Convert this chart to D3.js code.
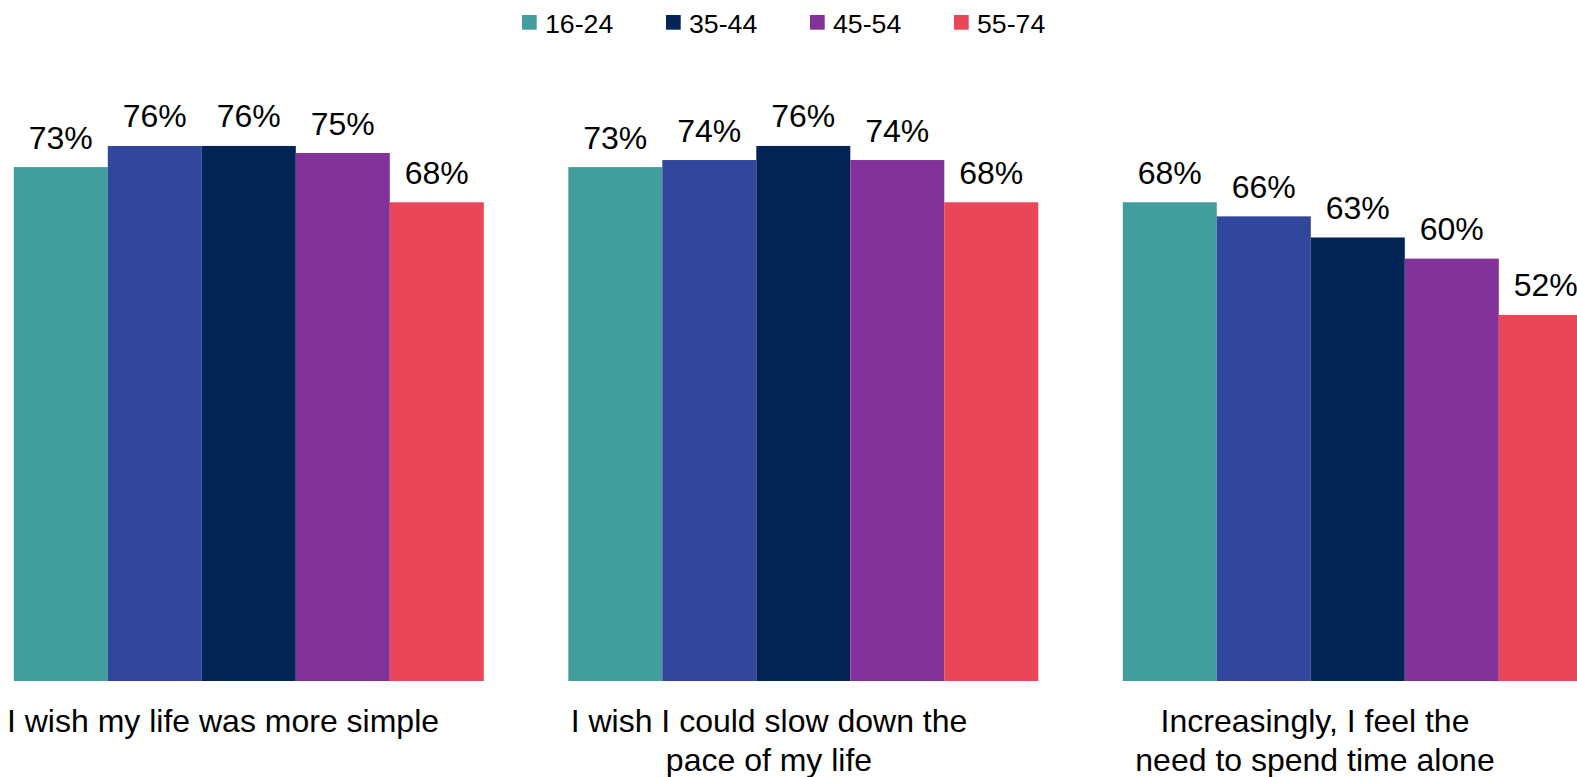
<!DOCTYPE html>
<html>
<head>
<meta charset="utf-8">
<script src="https://cdn.jsdelivr.net/npm/d3@7"></script>
<style>
  html, body { margin: 0; padding: 0; background: #fff; }
  svg { display: block; }
  text { font-family: "Liberation Sans", Arial, sans-serif; fill: #000; }
</style>
</head>
<body>
<svg id="chart" width="1577" height="777"></svg>
<script>
// ---- data ----
const categories = [
  "I wish my life was more simple",
  "I wish I could slow down the\npace of my life",
  "Increasingly, I feel the\nneed to spend time alone"
];
const seriesNames = ["16-24", "25-34", "35-44", "45-54", "55-74"];
const seriesColors = ["#429E9D", "#31479B", "#022555", "#84329B", "#E94657"];
const values1624 = [73, 73, 68];
const values2534 = [76, 74, 66];
const values3544 = [76, 76, 63];
const values4554 = [75, 74, 60];
const values5574 = [68, 68, 52];
const legendSeries = ["16-24", "35-44", "45-54", "55-74"];

const seriesValues = [values1624, values2534, values3544, values4554, values5574];

// ---- layout ----
const svg = d3.select("#chart");

const x0 = d3.scaleBand()
  .domain(categories)
  .range([13.8, 13.8 + 3 * 470 + 2 * 84.5])
  .paddingInner(84.5 / 554.5)
  .paddingOuter(0);

const x1 = d3.scaleBand()
  .domain(seriesNames)
  .range([0, x0.bandwidth()])
  .padding(0);

const y = d3.scaleLinear().domain([0, 100]).range([681, -23]);

const color = d3.scaleOrdinal().domain(seriesNames).range(seriesColors);

// category label positions
const xLabel = d3.scalePoint().domain(categories).range([223, 1315]);

// ---- bars ----
const rows = [];
categories.forEach((c, ci) => {
  seriesNames.forEach((s, si) => {
    rows.push({ cat: c, series: s, value: seriesValues[si][ci] });
  });
});

const g = svg.append("g");

g.selectAll("rect.bar")
  .data(rows)
  .join("rect")
  .attr("class", "bar")
  .attr("x", d => x0(d.cat) + x1(d.series))
  .attr("y", d => y(d.value))
  .attr("width", x1.bandwidth())
  .attr("height", d => y(0) - y(d.value))
  .attr("fill", d => color(d.series));

g.selectAll("text.val")
  .data(rows)
  .join("text")
  .attr("class", "val")
  .attr("x", d => x0(d.cat) + x1(d.series) + x1.bandwidth() / 2)
  .attr("y", d => y(d.value) - 18.5)
  .attr("text-anchor", "middle")
  .style("font-size", "32px")
  .text(d => d.value + "%");

// ---- category labels ----
const catLabels = svg.selectAll("text.cat")
  .data(categories)
  .join("text")
  .attr("class", "cat")
  .attr("text-anchor", "middle")
  .style("font-size", "32px");

catLabels.each(function(c) {
  const lines = c.split("\n");
  d3.select(this).selectAll("tspan")
    .data(lines)
    .join("tspan")
    .attr("x", xLabel(c))
    .attr("y", (l, i) => 732 + i * 38.5)
    .text(l => l);
});

// ---- legend ----
const legendX = d3.scalePoint().domain(legendSeries).range([522, 522 + 3 * 144]);
const leg = svg.append("g").selectAll("g")
  .data(legendSeries)
  .join("g")
  .attr("transform", d => `translate(${legendX(d)},0)`);

leg.append("rect")
  .attr("x", 0)
  .attr("y", 15)
  .attr("width", 14.7)
  .attr("height", 14.7)
  .attr("fill", d => color(d));

leg.append("text")
  .attr("x", 23)
  .attr("y", 32.5)
  .style("font-size", "26.7px")
  .text(d => d);
</script>
</body>
</html>
